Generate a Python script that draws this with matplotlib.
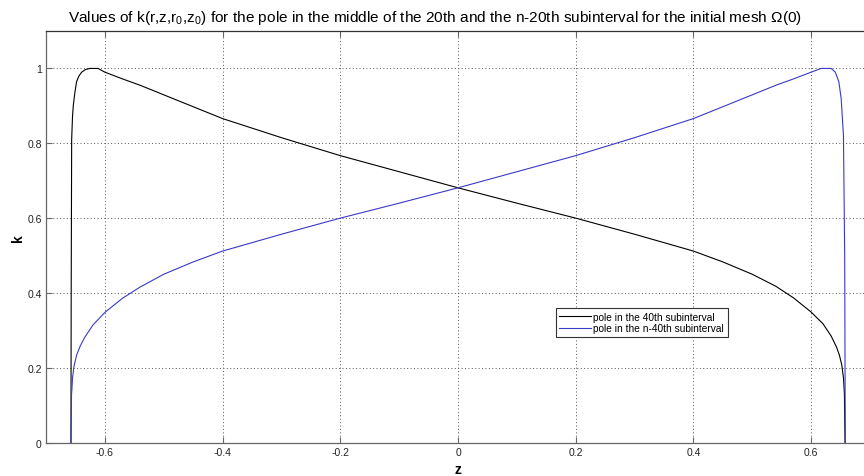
import matplotlib
matplotlib.use("Agg")
import matplotlib.pyplot as plt

plt.rcParams['font.family'] = ['Liberation Sans', 'DejaVu Sans']
plt.rcParams['mathtext.default'] = 'regular'

# k values for the pole in the 40th subinterval
z_black = [-0.6576, -0.6572, -0.6564, -0.6550, -0.6537, -0.6510, -0.6480, -0.6440,
           -0.6394, -0.6330, -0.6253, -0.6180, -0.6117, -0.6000, -0.5700, -0.5400,
           -0.4725, -0.4, -0.3, -0.2, -0.1, 0.0, 0.1, 0.2, 0.3, 0.4, 0.45, 0.5,
           0.54, 0.57, 0.6, 0.62, 0.634, 0.643, 0.648, 0.652, 0.655, 0.6565, 0.6576]
k_black = [0.0, 0.40, 0.81, 0.87, 0.90, 0.935, 0.965, 0.98, 0.99, 0.997, 1.0, 1.0,
           1.0, 0.99, 0.972, 0.955, 0.912, 0.866, 0.815, 0.767, 0.724, 0.681, 0.640,
           0.600, 0.557, 0.512, 0.483, 0.450, 0.418, 0.387, 0.349, 0.318, 0.285,
           0.256, 0.234, 0.208, 0.172, 0.130, 0.0]

# k values for the pole in the n-40th subinterval
z_blue = [-0.6576, -0.6566, -0.6560, -0.6550, -0.6525, -0.648, -0.642, -0.634,
          -0.620, -0.600, -0.570, -0.540, -0.5, -0.45, -0.4, -0.3, -0.2, -0.1,
          0.0, 0.1, 0.2, 0.3, 0.4, 0.4725, 0.54, 0.57, 0.6, 0.617, 0.625, 0.634,
          0.641, 0.647, 0.651, 0.6549, 0.657, 0.658]
k_blue = [0.0, 0.130, 0.142, 0.172, 0.204, 0.234, 0.258, 0.282, 0.315, 0.348,
          0.386, 0.416, 0.450, 0.483, 0.512, 0.557, 0.600, 0.640, 0.681, 0.724,
          0.767, 0.815, 0.866, 0.912, 0.955, 0.972, 0.99, 1.0, 1.0, 1.0,
          0.99, 0.965, 0.92, 0.82, 0.50, 0.0]

x_ticks = [-0.6, -0.4, -0.2, 0, 0.2, 0.4, 0.6]
x_ticklabels = ['-0.6', '-0.4', '-0.2', '0', '0.2', '0.4', '0.6']
y_ticks = [0, 0.2, 0.4, 0.6, 0.8, 1]
y_ticklabels = ['0', '0.2', '0.4', '0.6', '0.8', '1']

fig = plt.figure(figsize=(8.64, 4.77), dpi=100)
fig.patch.set_facecolor('white')
ax = fig.add_axes([46 / 864, 33.3 / 477, 824 / 864, 411.7 / 477])

ax.plot(z_black, k_black, color='black', linewidth=0.8,
        label='pole in the 40th subinterval')
ax.plot(z_blue, k_blue, color='#3a3ac8', linewidth=0.8,
        label='pole in the n-40th subinterval')

ax.set_xlim(-0.7, 0.7)
ax.set_ylim(0, 1.1)
ax.set_xticks(x_ticks)
ax.set_xticklabels(x_ticklabels)
ax.set_yticks(y_ticks)
ax.set_yticklabels(y_ticklabels)

ax.grid(True, color='#555555', linestyle=(0, (1, 2.5)), linewidth=0.7)
ax.tick_params(direction='in', length=4, width=0.8, top=True, right=True,
               labelsize=7.5, colors='#666666', labelcolor='#222222', pad=3)
for sp in ax.spines.values():
    sp.set_color('#666666')
    sp.set_linewidth(0.9)
ax.spines['top'].set_color('#333333')

ax.set_xlabel('z', fontsize=10, fontweight='bold', labelpad=4)
ax.set_ylabel('k', fontsize=10, fontweight='bold', labelpad=2)

fig.text(0.503, 0.962,
         'Values of k(r,z,r$_0$,z$_0$) for the pole in the middle of the 20th and '
         'the n-20th subinterval for the initial mesh Ω(0)',
         ha='center', va='center', fontsize=11.1)

leg = ax.legend(loc='upper left', bbox_to_anchor=(555.7 / 864, 1 - 309 / 477),
                bbox_transform=fig.transFigure, borderaxespad=0, fancybox=False,
                framealpha=1, edgecolor='#333333', fontsize=7.3, handlelength=3.1,
                handletextpad=0.25, borderpad=0.35, labelspacing=0.15)
leg.get_frame().set_linewidth(0.8)

fig.savefig('out.png', dpi=100)
